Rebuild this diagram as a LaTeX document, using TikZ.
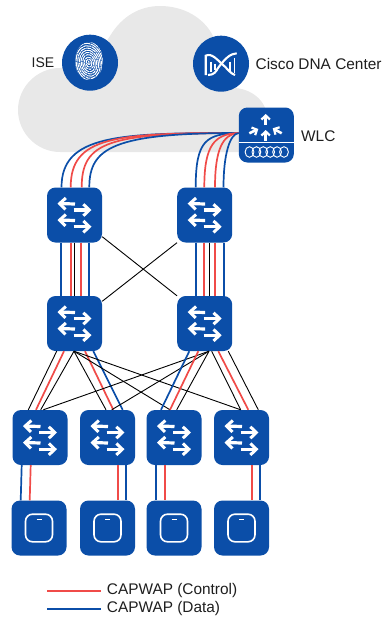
\documentclass[tikz,border=0pt]{standalone}
\usepackage{fontspec}
\setmainfont{Liberation Sans}
\usetikzlibrary{arrows.meta,calc}
\definecolor{ciscoblue}{HTML}{0B4EA8}
\definecolor{capred}{HTML}{F04B48}
\definecolor{cloudgray}{HTML}{E8E8E8}
\definecolor{inktext}{HTML}{1E1E1E}
\tikzset{
  tile/.style={
    rectangle,
    fill=ciscoblue,
    minimum size=55,
    inner sep=0,
    rounded corners=8.5
  },
  swarrow/.style={
    white,
    line width=3.2,
    -{Straight Barb[length=6,width=11.5,line width=3]}
  },
  switchbox/.style={
    tile,
    path picture={
      \begin{scope}[shift={(path picture bounding box.center)}]
        \draw[swarrow] (0.5,-11) -- (-17,-11.5);
        \draw[swarrow] (-1,-5) -- (17,-5);
        \draw[swarrow] (0.5,5.5) -- (-17,5);
        \draw[swarrow] (-1,11.7) -- (17,11.7);
      \end{scope}
    }
  },
  apbox/.style={
    tile,
    path picture={
      \begin{scope}[shift={(path picture bounding box.center)}]
        \draw[white,line width=1.6,rounded corners=7] (-13.5,-13.8) rectangle (13.5,13.8);
        \draw[white,line width=1.4] (-2.5,-8.7) -- (2.5,-8.7);
      \end{scope}
    }
  },
  capdata/.style={ciscoblue,line width=1.7},
  capctrl/.style={capred,line width=1.7},
  plainlink/.style={black,line width=0.9},
  lbl/.style={inktext,font=\fontsize{15.4}{18}\selectfont,inner sep=0}
}
\begin{document}
\begin{tikzpicture}[x=1pt,y=-1pt]
  \useasboundingbox (0,0) rectangle (383,618);
  \fill[cloudgray] (60,152)
    .. controls (37,152) and (18,133) .. (18,110)
    .. controls (18,87) and (37,68) .. (60,68)
    .. controls (75,68) and (95,60) .. (110,36)
    .. controls (122,16) and (140,6) .. (160,6)
    .. controls (184,6) and (204,18) .. (213,36)
    .. controls (220,60) and (225,85) .. (233,88)
    .. controls (250,88) and (267,100) .. (267,118)
    -- (267,152) -- cycle;
  \node[circle,fill=ciscoblue,minimum size=56,inner sep=0] (ise) at (90,62.7) {};
  \node[circle,fill=ciscoblue,minimum size=56,inner sep=0] (dna) at (221,63.7) {};
  \node[lbl,font=\fontsize{14}{18}\selectfont] (iselabel) at (43,63) {ISE};
  \node[lbl,anchor=west] (dnalabel) at (255.5,63.5) {Cisco DNA Center};
  \node[tile] (wlc) at (266.3,135) {};
  \node[lbl,anchor=west] (wlclabel) at (301,136) {WLC};
  \foreach \name/\x/\y in {core1/74.5/215,core2/204.7/215,dist1/74.5/323.5,dist2/204.7/323.5,
      acc1/40/437.5,acc2/107.5/437.5,acc3/174/437.5,acc4/241.5/437.5}
    \node[switchbox] (\name) at (\x,\y) {};
  \foreach \name/\x/\y in {ap1/39/528,ap2/107.5/528,ap3/174/528,ap4/241.5/528}
    \node[apbox] (\name) at (\x,\y) {};
  \begin{scope}[shift={(ise.center)}]
    \clip (-1,-1.7) ellipse (14 and 19);
    \foreach \r/\dashon in {1.5/2,3.4/5,5.3/3,7.2/6,9.1/4,11/7,12.9/5,14.8/8,16.7/6,18.6/9}
      \draw[white,line width=1.05,dash pattern=on \dashon pt off 0.7pt,rotate around={12:(-1,0.5)}] (-1,0.5) ellipse (\r*0.85 and \r*1.2);
  \end{scope}
  \begin{scope}[shift={(dna.center)},white,line width=2.1]
    \draw (-15.3,11.3) -- (-15.3,-8) .. controls (-9,-11) and (-4,-4) .. (4,3) .. controls (7,6) and (10,10) .. (14,11.3);
    \draw (15.7,-10.4) .. controls (9,-10) and (4,-5) .. (-3,4.3) .. controls (-5,8) and (-7,11.3) .. (-13,11.3);
    \foreach \x/\top/\bot in {-10/-2/8.3,-6/0/6.3,9/-2/8.3,13.3/-5.7/9.3}
      \draw[line width=1.3] (\x,\top) -- (\x,\bot);
  \end{scope}
  \begin{scope}[shift={(wlc.center)},white]
    \foreach \xa/\ya/\xb/\yb in {-0.6/-10/-0.6/-21,-17/-1.7/-8/-6,15.4/-1.7/6.4/-6.7,-0.6/5.7/-0.6/-5}
      \draw[line width=2.6,-{Straight Barb[length=4,width=8.5,line width=2.2]}] (\xa,\ya) -- (\xb,\yb);
    \draw[line width=0.9] (-27.5,7.7) -- (27.5,7.7);
    \foreach \k in {0,...,5}
      \draw[line width=0.9] (-16.8+\k*6.9,17) ellipse (4.4 and 5.3);
  \end{scope}
  \foreach \to/\dx/\linestyle/\ca/\cb in {core1/-13/capdata/135/-120,core1/-3.8/capctrl/137/-125,core1/7.2/capctrl/142/-130,core1/14.8/capdata/148/-125}
    \draw[\linestyle] ([xshift=\dx]\to.north) .. controls ($(\to.north)+(\dx,\ca-187.5)$) and ($(wlc.west)+(\cb,-2)$) .. ([yshift=2]wlc.west);
  \foreach \to/\dx/\linestyle/\ca/\cb in {core2/-9/capdata/140/-32,core2/-0.4/capctrl/145/-24,core2/10.3/capctrl/150/-16,core2/18.8/capdata/155/-9}
    \draw[\linestyle] ([xshift=\dx]\to.north) .. controls ($(\to.north)+(\dx,\ca-187.5)$) and ($(wlc.west)+(\cb,-1)$) .. ([yshift=2]wlc.west);
  \foreach \dx/\linestyle in {-13.2/capdata,-3.8/capctrl,0/plainlink,6.5/capctrl,14.8/capdata}
    \draw[\linestyle] ([xshift=\dx]core1.south) -- ([xshift=\dx]dist1.north);
  \foreach \dx/\linestyle in {-9/capdata,-0.4/capctrl,4.6/plainlink,10.6/capctrl,19/capdata}
    \draw[\linestyle] ([xshift=\dx]core2.south) -- ([xshift=\dx]dist2.north);
  \draw[plainlink] ([yshift=6]core1.south east) -- (dist2.north west);
  \draw[plainlink] (core2.south west) -- ([yshift=-5.5]dist1.north east);
  \foreach \from/\dx/\to/\dy/\linestyle in {
      dist1/-17.8/acc1/-11.7/plainlink,dist1/-10.5/acc1/-4/capctrl,dist1/-0.5/acc1/0.7/plainlink,
      dist1/-0.5/acc2/-1.5/plainlink,dist1/10.5/acc2/5.8/capctrl,dist1/18.8/acc2/15.2/capdata,
      dist1/-0.5/acc3/-4/plainlink,dist1/-0.5/acc4/-0.8/plainlink,
      dist2/4.3/acc1/3.3/plainlink,dist2/4.2/acc2/4.2/plainlink,dist2/4.3/acc3/2.7/plainlink,
      dist2/-6.4/acc3/-4/capctrl,dist2/-15.4/acc3/-13/capdata,
      dist2/7/acc4/-0.8/plainlink,dist2/13.6/acc4/6.8/capctrl,dist2/23.6/acc4/16.8/plainlink}
    \draw[\linestyle] ([xshift=\dx]\from.south) -- ([xshift=\dy]\to.north);
  \foreach \top/\bot/\dx/\linestyle in {
      acc1/ap1/-18.3/capdata,acc1/ap1/-9.3/capctrl,acc2/ap2/10.5/capctrl,acc2/ap2/18.5/capdata,
      acc3/ap3/-18/capdata,acc3/ap3/-9/capctrl,acc4/ap4/10.5/capctrl,acc4/ap4/18.5/capdata}
    \draw[\linestyle] ([xshift=\dx]\top.south) -- ([xshift=\dx]\bot.north);
  \node[lbl,anchor=west] (ctrllabel) at (106.7,591) {CAPWAP (Control)};
  \node[lbl,anchor=west] (datalabel) at (106.7,609) {CAPWAP (Data)};
  \coordinate (ctrlstart) at (47.3,591);
  \coordinate (datastart) at (47.3,609);
  \draw[capctrl] (ctrlstart) -- ([xshift=-6]ctrllabel.west);
  \draw[capdata] (datastart) -- ([xshift=-6]datalabel.west);
\end{tikzpicture}
\end{document}
